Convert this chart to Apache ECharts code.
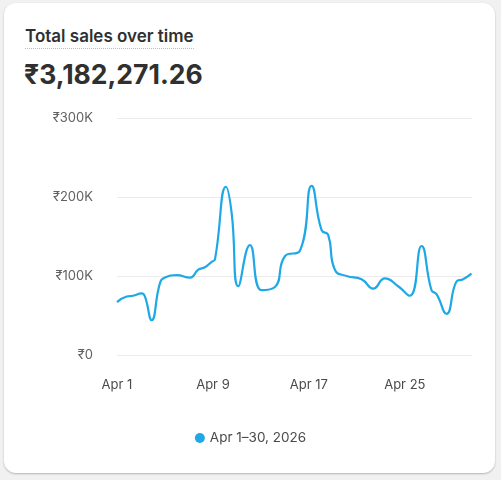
<!DOCTYPE html>
<html><head><meta charset="utf-8">
<script src="https://cdn.jsdelivr.net/npm/echarts@6/dist/echarts.min.js"></script>
<style>
html,body{margin:0;padding:0;background:#f1f1f1;font-family:Inter,"Noto Sans",sans-serif;}
.card{position:absolute;left:4px;top:3px;width:491px;height:470px;background:#fff;border-radius:12px;box-shadow:0 1px 2px rgba(0,0,0,0.25);}
.t{position:absolute;left:25px;top:26px;font-size:17px;font-weight:600;color:#303030;border-bottom:1.5px dotted #bbb;padding-bottom:2px;}
.v{position:absolute;left:24px;top:58px;font-size:26.5px;font-weight:700;color:#303030;}
#c{position:absolute;left:0;top:0;width:501px;height:480px;}
</style></head><body>
<div class="card"></div>
<div class="t">Total sales over time</div>
<div class="v">₹3,182,271.26</div>
<div id="c"></div>
<script>
const pixX=[117,126.7,133,141.7,145,151.7,160,165,176.7,190,198.3,205,211.7,215,226,231.7,238.3,250,261.7,275,285,300,311.7,321.7,328.3,335,346.7,361.7,373.3,385,398.3,410,421.7,431.7,436.7,446.7,456.7,463.3,471.7];
const days=pixX.map(x=>(x-117)/12);
const sales=[67,74,75,78,74,44,91,98,101,98,108,111,118,121,213,180,87,139,82,86,125,132,214,158,152,108,100,96,84,97,87,75,138,82,77,52,93,96,103].map(v=>v*1000);
const yTicks=[0,100000,200000,300000];
const legendName='Apr 1–30, 2026';
const c=echarts.init(document.getElementById('c'));
c.setOption({
 animation:false,
 grid:{left:117,right:29,top:118,bottom:125},
 xAxis:{type:'value',min:0,max:29.6,interval:8,
  axisLine:{show:false},axisTick:{show:false},splitLine:{show:false},
  axisLabel:{showMaxLabel:false,color:'#4a4a4a',fontSize:13,fontFamily:'Inter',margin:24,formatter:v=>'Apr '+(v+1)}},
 yAxis:{type:'value',min:0,max:300000,interval:100000,
  axisLine:{show:false},axisTick:{show:false},
  axisLabel:{color:'#616161',fontSize:13,fontFamily:'Inter',margin:24,formatter:v=>'₹'+(v===0?'0':(v/1000)+'K')},
  splitLine:{lineStyle:{color:'#ebebeb'}}},
 legend:{bottom:30,left:'center',icon:'circle',itemWidth:10,itemHeight:10,itemGap:10,textStyle:{color:'#4a4a4a',fontSize:13.5,fontFamily:'Inter'}},
 series:[{name:legendName,type:'line',smooth:0.5,showSymbol:false,color:'#1fa8e6',lineStyle:{width:2.2},
  data:days.map((d,i)=>[d,sales[i]])}]
});
</script></body></html>
